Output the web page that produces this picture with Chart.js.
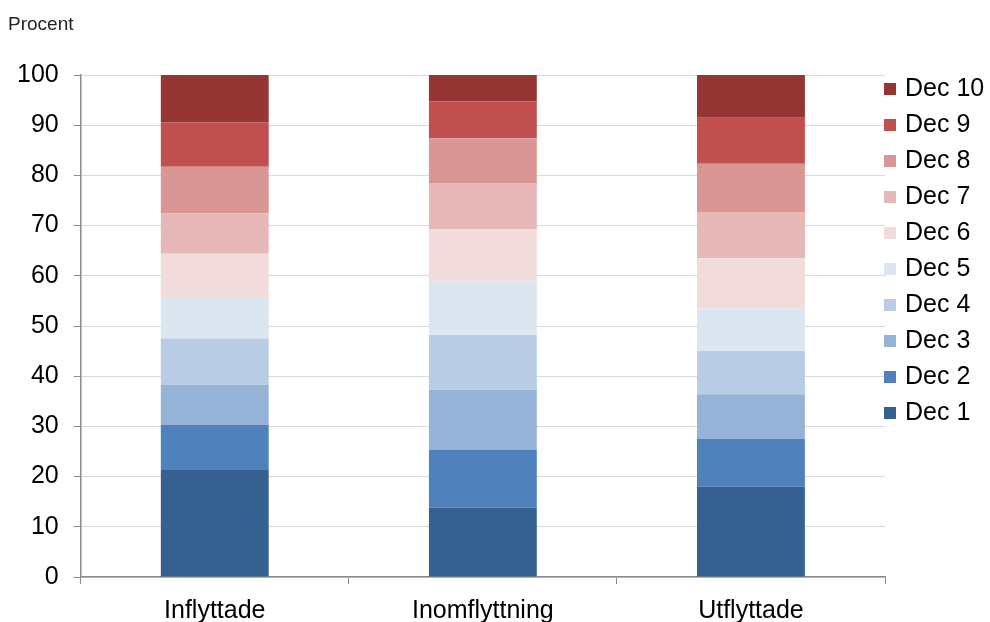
<!DOCTYPE html>
<html lang="sv">
<head>
    <meta charset="UTF-8">
    <title>Decilfördelning</title>
    <script src="https://cdn.jsdelivr.net/npm/chart.js"></script>
    <style>
        body {
            margin: 0;
            background: #ffffff;
            font-family: "Liberation Sans", Arial, sans-serif;
        }
        .wrap {
            position: relative;
            width: 990px;
            height: 622px;
            overflow: hidden;
        }
        .unit {
            position: absolute;
            left: 8px;
            top: 12px;
            font-size: 19px;
            line-height: 24px;
            color: #222;
        }
        #legend {
            position: absolute;
            left: 884px;
            top: 69px;
            list-style: none;
            margin: 0;
            padding: 0;
        }
        #legend li {
            height: 36px;
            line-height: 36px;
            font-size: 25px;
            color: #000;
            white-space: nowrap;
        }
        #legend span {
            display: inline-block;
            width: 12px;
            height: 12px;
            margin-right: 9px;
            vertical-align: 1px;
        }
    </style>
</head>
<body>
    <div class="wrap">
        <div class="unit">Procent</div>
        <canvas id="chart" width="990" height="622"></canvas>
        <ul id="legend"></ul>
    </div>

    <script>
        // Data (percent per decile)
        const categories = ['Inflyttade', 'Inomflyttning', 'Utflyttade'];
        const deciles = ['Dec 1', 'Dec 2', 'Dec 3', 'Dec 4', 'Dec 5', 'Dec 6', 'Dec 7', 'Dec 8', 'Dec 9', 'Dec 10'];
        const inflyttade = [21.3, 9.0, 8.0, 9.2, 8.3, 8.6, 8.0, 9.3, 8.9, 9.4];
        const inomflyttning = [13.8, 11.5, 12.0, 10.9, 10.8, 10.2, 9.3, 8.9, 7.3, 5.3];
        const utflyttade = [18.0, 9.5, 8.9, 8.6, 8.5, 10.0, 9.2, 9.6, 9.2, 8.5];
        const colors = ['#366092', '#4f81bd', '#95b3d7', '#b8cce4', '#dce6f1',
                        '#f2dcdb', '#e6b8b7', '#da9694', '#c0504d', '#963634'];

        const datasets = deciles.map((name, i) => ({
            label: name,
            data: [inflyttade[i], inomflyttning[i], utflyttade[i]],
            backgroundColor: colors[i],
            borderWidth: 0,
            barPercentage: 0.8,
            categoryPercentage: 0.503
        }));

        const font = "'Liberation Sans', Arial, sans-serif";

        new Chart(document.getElementById('chart'), {
            type: 'bar',
            data: { labels: categories, datasets: datasets },
            options: {
                responsive: false,
                animation: false,
                layout: { padding: { top: 75, left: 2, right: 105, bottom: 0 } },
                plugins: {
                    tooltip: { enabled: false },
                    legend: { display: false }
                },
                scales: {
                    x: {
                        stacked: true,
                        afterFit: (scale) => { scale.height = 45; },
                        grid: {
                            drawOnChartArea: false,
                            drawTicks: true,
                            tickLength: 7,
                            tickColor: '#8c8c8c'
                        },
                        border: { color: '#8c8c8c', width: 1.5 },
                        ticks: {
                            color: '#000',
                            padding: 12,
                            font: { family: font, size: 25 }
                        }
                    },
                    y: {
                        stacked: true,
                        min: 0,
                        max: 100,
                        grid: {
                            color: '#d9d9d9',
                            tickColor: '#8c8c8c',
                            tickLength: 7
                        },
                        border: { color: '#8c8c8c', width: 1.5 },
                        ticks: {
                            stepSize: 10,
                            color: '#000',
                            padding: 15,
                            font: { family: font, size: 25 }
                        }
                    }
                }
            }
        });

        // Legend, top entry is Dec 10
        const legend = document.getElementById('legend');
        for (let i = deciles.length - 1; i >= 0; i--) {
            const li = document.createElement('li');
            const box = document.createElement('span');
            box.style.background = colors[i];
            li.appendChild(box);
            li.appendChild(document.createTextNode(deciles[i]));
            legend.appendChild(li);
        }
    </script>
</body>
</html>
